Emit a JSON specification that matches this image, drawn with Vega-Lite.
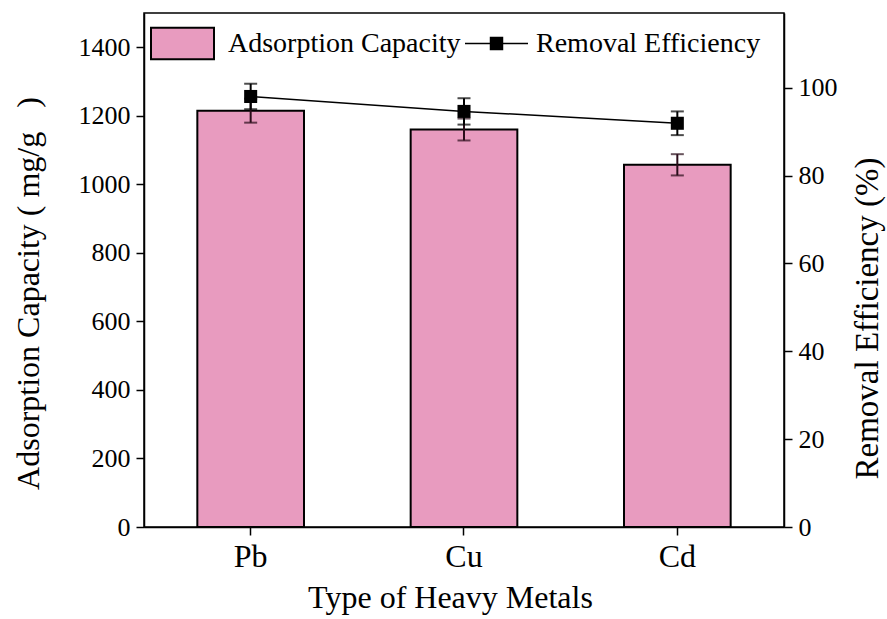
{
  "$schema": "https://vega.github.io/schema/vega-lite/v6.json",
  "autosize": "none",
  "width": 640,
  "height": 514,
  "padding": {"left": 144, "top": 13, "right": 103, "bottom": 92},
  "background": "white",
  "config": {
    "font": "Liberation Serif",
    "view": {"stroke": "black", "strokeWidth": 1.5},
    "axis": {
      "grid": false,
      "domainColor": "black",
      "domainWidth": 1.5,
      "tickColor": "black",
      "tickWidth": 1.5,
      "tickSize": 8,
      "labelColor": "black",
      "titleColor": "black",
      "labelFont": "Liberation Serif",
      "titleFont": "Liberation Serif",
      "titleFontWeight": "normal",
      "labelFontSize": 26,
      "titleFontSize": 32
    },
    "legend": {
      "labelFont": "Liberation Serif",
      "labelFontSize": 28,
      "labelColor": "black",
      "labelLimit": 0
    }
  },
  "data": {
    "values": [
      {"metal": "Pb", "capacity": 1215, "capErr": 35, "efficiency": 98.0, "effErr": 2.9},
      {"metal": "Cu", "capacity": 1160, "capErr": 32, "efficiency": 94.6, "effErr": 3.0},
      {"metal": "Cd", "capacity": 1057, "capErr": 31, "efficiency": 91.9, "effErr": 2.7}
    ]
  },
  "encoding": {
    "x": {
      "field": "metal",
      "type": "nominal",
      "sort": ["Pb", "Cu", "Cd"],
      "scale": {"paddingInner": 0.5, "paddingOuter": 0.25},
      "axis": {"labelAngle": 0, "labelFontSize": 32, "labelPadding": 6, "title": "Type of Heavy Metals", "titlePadding": 10, "titleX": 306}
    }
  },
  "layer": [
    {
      "encoding": {
        "y": {
          "type": "quantitative",
          "scale": {"domain": [0, 1500], "nice": false, "zero": true},
          "axis": {"values": [0, 200, 400, 600, 800, 1000, 1200, 1400], "format": "d", "title": "Adsorption Capacity ( mg/g\u00a0\u00a0\u00a0)", "titlePadding": 33, "titleY": 280, "labelPadding": 6}
        }
      },
      "layer": [
        {
          "mark": {"type": "bar", "stroke": "black", "strokeWidth": 2},
          "encoding": {
            "y": {"field": "capacity", "type": "quantitative"},
            "fill": {
              "datum": "Adsorption Capacity",
              "type": "nominal",
              "scale": {"range": ["#E89BBF"]},
              "legend": {
                "title": null,
                "orient": "none",
                "legendX": 6,
                "legendY": -2,
                "symbolType": "M-1,-0.5H1V0.5H-1Z",
                "symbolSize": 3969,
                "symbolStrokeColor": "black",
                "symbolStrokeWidth": 2,
                "labelOffset": 13
              }
            }
          }
        },
        {
          "transform": [
            {"calculate": "datum.capacity - datum.capErr", "as": "capLo"},
            {"calculate": "datum.capacity + datum.capErr", "as": "capHi"}
          ],
          "layer": [
            {
              "mark": {"type": "rule", "color": "#2a0d1a", "strokeWidth": 2},
              "encoding": {
                "y": {"field": "capLo", "type": "quantitative"},
                "y2": {"field": "capHi"}
              }
            },
            {
              "mark": {"type": "tick", "color": "#2a0d1a", "thickness": 2, "size": 13},
              "encoding": {"y": {"field": "capLo", "type": "quantitative"}}
            },
            {
              "mark": {"type": "tick", "color": "#2a0d1a", "thickness": 2, "size": 13},
              "encoding": {"y": {"field": "capHi", "type": "quantitative"}}
            }
          ]
        }
      ]
    },
    {
      "encoding": {
        "y": {
          "type": "quantitative",
          "scale": {"domain": [0, 117], "nice": false, "zero": true},
          "axis": {"orient": "right", "values": [0, 20, 40, 60, 80, 100], "format": "d", "title": "Removal Efficiency (%)", "titleFontSize": 33, "titleAngle": 270, "titleBaseline": "top", "titlePadding": 14, "titleY": 305, "labelPadding": 6}
        }
      },
      "layer": [
        {
          "mark": {"type": "line", "strokeWidth": 1.5},
          "encoding": {
            "y": {"field": "efficiency", "type": "quantitative"},
            "stroke": {
              "datum": "Removal Efficiency",
              "type": "nominal",
              "scale": {"range": ["black"]},
              "legend": {
                "title": null,
                "orient": "none",
                "legendX": 320,
                "legendY": -2,
                "symbolType": "M-1,0H1M-0.19,-0.19H0.19V0.19H-0.19Z",
                "symbolSize": 3969,
                "symbolStrokeWidth": 1.5,
                "symbolFillColor": "black",
                "labelOffset": 7,
                "encode": {"symbols": {"update": {"fill": {"value": "black"}}}}
              }
            }
          }
        },
        {
          "transform": [
            {"calculate": "datum.efficiency - datum.effErr", "as": "effLo"},
            {"calculate": "datum.efficiency + datum.effErr", "as": "effHi"}
          ],
          "layer": [
            {
              "mark": {"type": "rule", "color": "black", "strokeWidth": 2},
              "encoding": {
                "y": {"field": "effLo", "type": "quantitative"},
                "y2": {"field": "effHi"}
              }
            },
            {
              "mark": {"type": "tick", "color": "black", "thickness": 2, "size": 13},
              "encoding": {"y": {"field": "effLo", "type": "quantitative"}}
            },
            {
              "mark": {"type": "tick", "color": "black", "thickness": 2, "size": 13},
              "encoding": {"y": {"field": "effHi", "type": "quantitative"}}
            }
          ]
        },
        {
          "mark": {"type": "point", "shape": "square", "filled": true, "color": "black", "size": 170, "opacity": 1},
          "encoding": {"y": {"field": "efficiency", "type": "quantitative"}}
        }
      ]
    }
  ],
  "resolve": {"scale": {"y": "independent", "fill": "independent", "stroke": "independent"}}
}
